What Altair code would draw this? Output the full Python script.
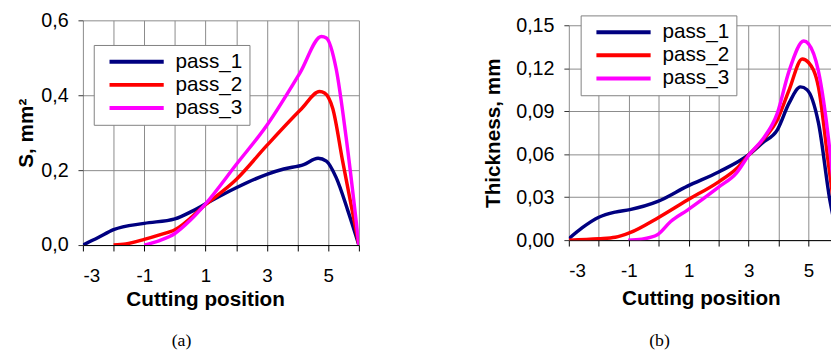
import altair as alt
import pandas as pd

series = ["pass_1", "pass_2", "pass_3"]
colors = ["#000080", "#FF0000", "#FF00FF"]

# Panel (a): S, mm^2
a_x1 = [-3, -2.5, -2.0, -1.0, 0.0, 0.55, 1.0, 2.0, 3.0, 3.55, 4.2, 4.67, 4.94, 5.26, 5.64, 6]
a_y1 = [0.0, 0.020, 0.041, 0.058, 0.070, 0.090, 0.110, 0.153, 0.189, 0.203, 0.215, 0.232, 0.224, 0.18, 0.092, 0.0]
a_x2 = [-2, -1.6, -1.0, -0.5, 0.0, 1.0, 2.0, 3.0, 4.13, 4.72, 4.88, 5.15, 5.47, 6]
a_y2 = [0.0, 0.003, 0.015, 0.027, 0.041, 0.108, 0.175, 0.266, 0.364, 0.41, 0.406, 0.364, 0.224, 0.0]
a_x3 = [-1, -0.5, 0.0, 0.5, 1.0, 2.0, 3.0, 4.08, 4.78, 4.94, 5.26, 5.58, 6]
a_y3 = [0.0, 0.012, 0.031, 0.066, 0.110, 0.215, 0.32, 0.46, 0.557, 0.553, 0.47, 0.29, 0.0]

# Panel (b): Thickness, mm
b_x1 = [-3, -2.55, -2.0, -1.45, -0.96, -0.03, 0.96, 2.0, 3.03, 3.47, 3.96, 4.35, 4.73, 4.95, 5.33, 5.72, 6]
b_y1 = [0.001, 0.0087, 0.016, 0.0196, 0.0213, 0.027, 0.0377, 0.0476, 0.060, 0.068, 0.077, 0.0956, 0.107, 0.105, 0.082, 0.027, 0.0]
b_x2 = [-3, -2, -1.45, -0.96, -0.03, 0.96, 2.0, 2.6, 3.03, 3.5, 3.96, 4.35, 4.79, 5.0, 5.33, 5.66, 6]
b_y2 = [0.0, 0.001, 0.002, 0.0052, 0.0155, 0.028, 0.0407, 0.050, 0.060, 0.0704, 0.084, 0.1047, 0.1265, 0.124, 0.107, 0.054, 0.0]
b_x3 = [-1.02, -0.57, -0.03, 0.4, 0.96, 2.0, 2.6, 3.03, 3.47, 3.96, 4.35, 4.84, 5.0, 5.33, 5.72, 6]
b_y3 = [0.0, 0.0007, 0.004, 0.013, 0.021, 0.037, 0.047, 0.060, 0.0704, 0.0887, 0.118, 0.139, 0.137, 0.118, 0.061, 0.0]

a_yticks = [0, 0.2, 0.4, 0.6]
b_yticks = [0, 0.03, 0.06, 0.09, 0.12, 0.15]


def frame(xs, ys):
    rows = []
    for name, xx, yy in zip(series, xs, ys):
        for x, y in zip(xx, yy):
            rows.append({"x": x, "y": y, "series": name})
    return pd.DataFrame(rows)


df_a = frame([a_x1, a_x2, a_x3], [a_y1, a_y2, a_y3])
df_b = frame([b_x1, b_x2, b_x3], [b_y1, b_y2, b_y3])

FONT = "Liberation Sans"
GRID = "#8a8a8a"


def panel(df, xdom, xvals, ymax, yvals, yfmt, ytitle, width, height, lx, ly,
          caption, cap_dx, cap_off, title_x, title_y, xlab_pad, ytitle_pad):
    legend = alt.Legend(
        orient="none", legendX=lx, legendY=ly, title=None,
        symbolType="stroke", symbolSize=3025, symbolStrokeWidth=4,
        clipHeight=20, rowPadding=2.5, padding=7, symbolOffset=7, labelOffset=10,
        labelFont=FONT, labelFontSize=21, labelColor="black",
        strokeColor="#808080", fillColor="white",
    )
    return alt.Chart(df).mark_line(strokeWidth=3.5, interpolate="monotone", clip=True).encode(
        x=alt.X("x:Q",
                scale=alt.Scale(domain=xdom, nice=False, zero=False),
                axis=alt.Axis(values=xvals, title="Cutting position",
                              labelExpr="datum.value % 2 != 0 ? '' + datum.value : ''",
                              grid=True, gridColor=GRID, domainColor="black",
                              tickColor="black", tickSize=6, labelPadding=xlab_pad,
                              labelFont=FONT, labelFontSize=19, labelColor="black",
                              titleFont=FONT, titleFontSize=21, titleFontWeight="bold",
                              titleColor="black", titleX=title_x, titleY=title_y)),
        y=alt.Y("y:Q",
                scale=alt.Scale(domain=[0, ymax], nice=False, zero=True),
                axis=alt.Axis(values=yvals, title=ytitle,
                              labelExpr=f"replace(format(datum.value, '{yfmt}'), '.', ',')",
                              grid=True, gridColor=GRID, domain=False,
                              tickColor="#333333", tickSize=5, labelPadding=10,
                              labelFont=FONT, labelFontSize=20, labelColor="black",
                              titleFont=FONT, titleFontSize=21, titleFontWeight="bold",
                              titleColor="black", titlePadding=ytitle_pad)),
        color=alt.Color("series:N", scale=alt.Scale(domain=series, range=colors), legend=legend),
    ).properties(
        width=width, height=height,
        title=alt.TitleParams(caption, orient="bottom", font="Liberation Serif", fontSize=18,
                              fontWeight="normal", color="black", anchor="middle",
                              frame="group", dx=cap_dx, offset=cap_off),
    )


pa = panel(df_a, [-3, 6], list(range(-3, 7)), 0.6, a_yticks, ".1f", "S, mm²",
           280, 228, 11, 25, "(a)", -40, 23, 124, 44, 16, 4)
pb = panel(df_b, [-3, 5.75], list(range(-3, 6)), 0.15, b_yticks, ".2f", "Thickness, mm",
           266, 218, 12, -10, "(b)", -41, 24, 134, 48.5, 16, 12)

chart = alt.hconcat(pa, pb, spacing=213, bounds="flush", center=True).resolve_scale(
    color="independent"
).resolve_legend(color="independent").configure_view(stroke=None).properties(
    padding={"left": 8, "top": 0, "right": 0, "bottom": 0}
)

chart.save("out.html", embed_options={"renderer": "svg", "actions": False})
